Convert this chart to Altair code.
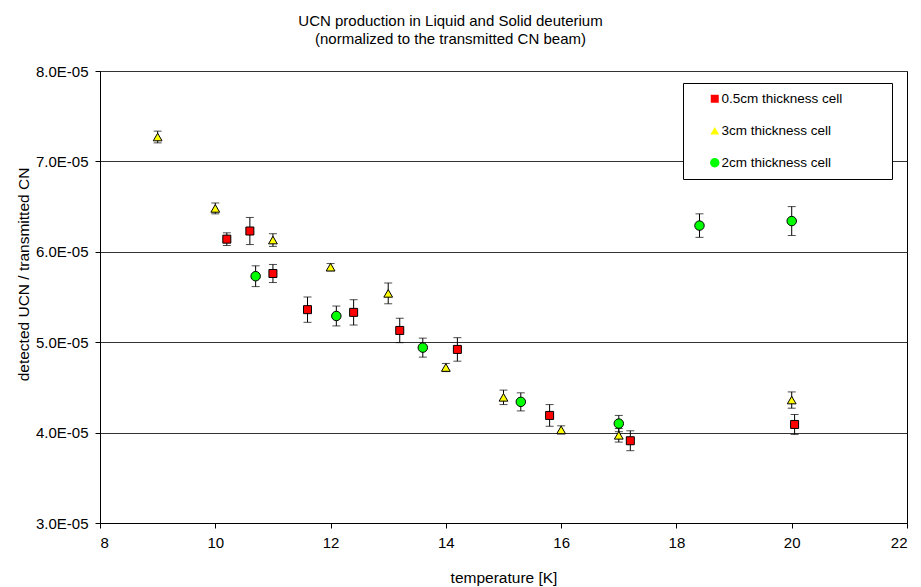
import altair as alt
import pandas as pd

series_names = ["0.5cm thickness cell", "3cm thickness cell", "2cm thickness cell"]
series_fill = ["#FF0000", "#FFFF00", "#00FF00"]
series_shape = ["square", "triangle-up", "circle"]
series_size = [64, 90, 55]

# 0.5 cm cell
temp_05 = [10.2, 10.6, 11.0, 11.6, 12.4, 13.2, 14.2, 15.8, 17.2, 20.05]
ucn_05 = [6.14e-5, 6.23e-5, 5.76e-5, 5.36e-5, 5.33e-5, 5.13e-5, 4.92e-5, 4.19e-5, 3.91e-5, 4.09e-5]
err_05 = [0.07e-5, 0.15e-5, 0.10e-5, 0.14e-5, 0.14e-5, 0.135e-5, 0.13e-5, 0.12e-5, 0.11e-5, 0.11e-5]

# 3 cm cell
temp_3 = [9.0, 10.0, 11.0, 12.0, 13.0, 14.0, 15.0, 16.0, 17.0, 20.0]
ucn_3 = [7.27e-5, 6.48e-5, 6.13e-5, 5.83e-5, 5.54e-5, 4.72e-5, 4.39e-5, 4.03e-5, 3.97e-5, 4.36e-5]
err_3 = [0.065e-5, 0.06e-5, 0.07e-5, 0.04e-5, 0.115e-5, 0.045e-5, 0.08e-5, 0.045e-5, 0.075e-5, 0.09e-5]

# 2 cm cell
temp_2 = [10.7, 12.1, 13.6, 15.3, 17.0, 18.4, 20.0]
ucn_2 = [5.73e-5, 5.29e-5, 4.94e-5, 4.34e-5, 4.10e-5, 6.29e-5, 6.34e-5]
err_2 = [0.115e-5, 0.11e-5, 0.105e-5, 0.10e-5, 0.09e-5, 0.13e-5, 0.16e-5]

x_ticks = [8, 10, 12, 14, 16, 18, 20, 22]
y_ticks = [3e-5, 4e-5, 5e-5, 6e-5, 7e-5, 8e-5]

rows = []
for name, ts, vs, es in [
    (series_names[0], temp_05, ucn_05, err_05),
    (series_names[1], temp_3, ucn_3, err_3),
    (series_names[2], temp_2, ucn_2, err_2),
]:
    for t, v, e in zip(ts, vs, es):
        rows.append({"series": name, "T": t, "ratio": v, "lo": v - e, "hi": v + e})
df = pd.DataFrame(rows)

FONT = "Liberation Sans"
Y_TITLE = "detected UCN / transmitted CN"

x_enc = alt.X(
    "T:Q",
    title="temperature [K]",
    scale=alt.Scale(domain=[8, 22], nice=False, zero=False),
    axis=alt.Axis(values=x_ticks, grid=False, titleY=54, titleBaseline="middle"),
)


def y_enc(field):
    return alt.Y(
        f"{field}:Q",
        title=Y_TITLE,
        scale=alt.Scale(domain=[3e-5, 8e-5], nice=False, zero=False),
        axis=alt.Axis(
            values=y_ticks,
            labelExpr="format(datum.value * 1e5, '.1f') + 'E-05'",
            grid=True,
            gridColor="#333333",
            gridWidth=1,
            titleX=-77,
            titleY=203,
            titleBaseline="middle",
        ),
    )


base = alt.Chart(df)

bars = base.mark_rule(color="black", strokeWidth=1).encode(
    x=x_enc, y=y_enc("lo"), y2="hi:Q"
)
cap_lo = base.mark_tick(orient="horizontal", size=8, thickness=1, color="black").encode(
    x=x_enc, y=y_enc("lo")
)
cap_hi = base.mark_tick(orient="horizontal", size=8, thickness=1, color="black").encode(
    x=x_enc, y=y_enc("hi")
)

# blank spacing after each label widens the legend box on the right;
# the final braille blank keeps the spaces from being trimmed
pad = "\u00a0" * 8 + "\u2800"
legend = alt.Legend(title=None, labelExpr=f"datum.label + '{pad}'", labelLimit=400)
points = base.mark_point(filled=True, stroke="black", strokeWidth=1, opacity=1).encode(
    x=x_enc,
    y=y_enc("ratio"),
    fill=alt.Fill(
        "series:N",
        scale=alt.Scale(domain=series_names, range=series_fill),
        legend=legend,
    ),
    shape=alt.Shape(
        "series:N",
        scale=alt.Scale(domain=series_names, range=series_shape),
        legend=legend,
    ),
    size=alt.Size(
        "series:N",
        scale=alt.Scale(domain=series_names, range=series_size),
        legend=legend,
    ),
)

chart = (
    alt.layer(bars, cap_lo, cap_hi, points)
    .properties(
        width=807,
        height=452,
        autosize=alt.AutoSizeParams(type="none"),
        padding={"left": 100, "top": 71, "right": 14, "bottom": 64},
        title=alt.Title(
            ["UCN production in Liquid and Solid deuterium", "(normalized to the transmitted CN beam)"],
            font=FONT,
            fontSize=15,
            fontWeight="normal",
            color="black",
            anchor="middle",
            dx=-53,
            offset=17,
            lineHeight=18,
        ),
    )
    .configure(background="white")
    .configure_view(stroke="black", strokeWidth=1)
    .configure_axis(
        domainColor="black",
        tickColor="black",
        tickSize=5,
        labelColor="black",
        labelFont=FONT,
        labelFontSize=15,
        labelPadding=7,
        titleColor="black",
        titleFont=FONT,
        titleFontSize=15.5,
        titleFontWeight="normal",
    )
    .configure_legend(
        orient="none",
        legendX=583,
        legendY=12,
        fillColor="white",
        strokeColor="black",
        padding=9,
        rowPadding=17,
        symbolOffset=16,
        symbolStrokeColor="black",
        symbolStrokeWidth=1,
        labelFont=FONT,
        labelFontSize=13.5,
        labelColor="black",
        labelOffset=0,
    )
)

chart.save("out.html", embed_options={"renderer": "svg", "actions": False})
